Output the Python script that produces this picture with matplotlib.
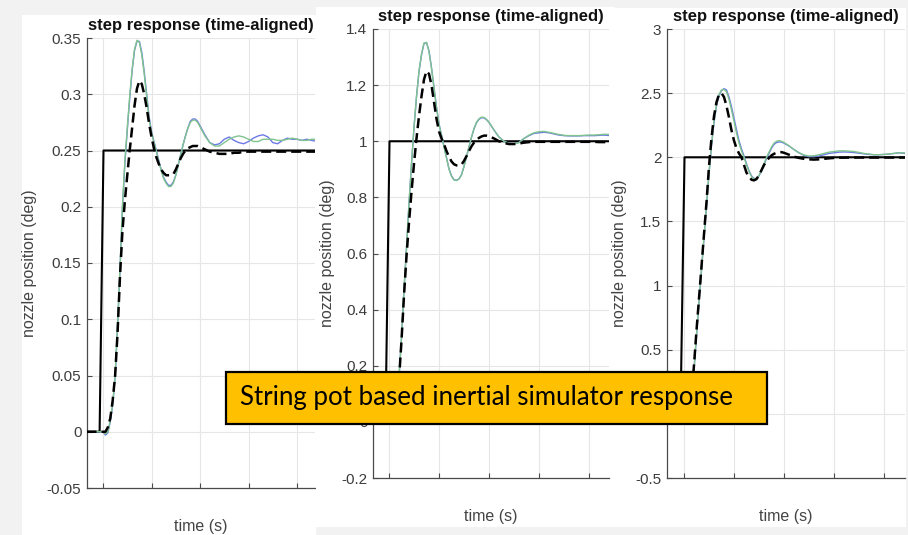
import matplotlib
matplotlib.use("Agg")
import matplotlib.pyplot as plt
from matplotlib.patches import Rectangle
from matplotlib.ticker import FuncFormatter

plt.rcParams["font.family"] = ["Liberation Sans", "DejaVu Sans"]
plt.rcParams["axes.unicode_minus"] = False

# sample times (s, relative to the step)
t = [-0.34, 0.0, 0.05, 0.1, 0.15, 0.2, 0.25, 0.3, 0.35, 0.4,
     0.45, 0.5, 0.55, 0.6, 0.65, 0.7, 0.75, 0.8, 0.85, 0.9,
     0.95, 1.0, 1.05, 1.1, 1.15, 1.2, 1.25, 1.3, 1.35, 1.4,
     1.45, 1.5, 1.55, 1.6, 1.65, 1.7, 1.75, 1.8, 1.85, 1.9,
     1.95, 2.0, 2.1, 2.2, 2.3, 2.4, 2.5, 2.6, 2.7, 2.8,
     2.9, 3.0, 3.1, 3.2, 3.3, 3.4, 3.5, 3.6, 3.7, 3.8,
     3.9, 4.0, 4.1, 4.2, 4.3, 4.42]

# commanded step
cmd_t = [-0.34, -0.07, 0.01, 4.42]
cmd_levels = [0.25, 1.0, 2.0]

# 0.25 deg step
meas_a_025 = [0, 0, -0.003, -0.001, 0.009, 0.024, 0.049, 0.093, 0.143, 0.198,
              0.238, 0.268, 0.296, 0.321, 0.339, 0.347, 0.347, 0.337, 0.320, 0.300,
              0.280, 0.267, 0.258, 0.250, 0.241, 0.233, 0.226, 0.222, 0.219, 0.219,
              0.222, 0.228, 0.237, 0.246, 0.255, 0.263, 0.270, 0.276, 0.278, 0.278,
              0.276, 0.272, 0.264, 0.257, 0.255, 0.256, 0.260, 0.262, 0.259, 0.257,
              0.256, 0.258, 0.261, 0.263, 0.264, 0.262, 0.257, 0.256, 0.259, 0.261,
              0.260, 0.260, 0.259, 0.260, 0.259, 0.258]
meas_b_025 = [0, 0, -0.002, 0.0, 0.010, 0.025, 0.050, 0.095, 0.145, 0.200,
              0.240, 0.270, 0.298, 0.322, 0.340, 0.348, 0.346, 0.335, 0.318, 0.298,
              0.278, 0.266, 0.257, 0.249, 0.240, 0.232, 0.225, 0.221, 0.218, 0.218,
              0.221, 0.228, 0.237, 0.246, 0.255, 0.263, 0.270, 0.275, 0.277, 0.277,
              0.275, 0.271, 0.263, 0.257, 0.254, 0.254, 0.257, 0.260, 0.262, 0.263,
              0.262, 0.260, 0.258, 0.258, 0.260, 0.260, 0.260, 0.259, 0.259, 0.260,
              0.261, 0.260, 0.259, 0.259, 0.260, 0.260]
model_025 = [0, 0, 0.0, 0.004, 0.012, 0.028, 0.050, 0.088, 0.138, 0.178,
             0.205, 0.228, 0.250, 0.270, 0.290, 0.305, 0.312, 0.309, 0.300, 0.288,
             0.274, 0.262, 0.252, 0.244, 0.238, 0.233, 0.230, 0.228, 0.228, 0.228,
             0.229, 0.233, 0.238, 0.243, 0.247, 0.250, 0.252, 0.253, 0.254, 0.254,
             0.254, 0.253, 0.251, 0.249, 0.248, 0.247, 0.247, 0.247, 0.248, 0.248,
             0.249, 0.249, 0.249, 0.249, 0.249, 0.249, 0.249, 0.249, 0.249, 0.249,
             0.249, 0.249, 0.249, 0.249, 0.249, 0.249]

# 1 deg step
meas_a_1 = [0, 0, -0.006, 0.018, 0.068, 0.158, 0.298, 0.468, 0.618, 0.778,
            0.918, 1.048, 1.158, 1.248, 1.308, 1.348, 1.352, 1.322, 1.262, 1.192,
            1.122, 1.062, 1.022, 0.982, 0.942, 0.902, 0.877, 0.863, 0.861, 0.866,
            0.881, 0.910, 0.945, 0.980, 1.014, 1.044, 1.066, 1.078, 1.084, 1.083,
            1.077, 1.067, 1.040, 1.015, 1.000, 0.993, 0.991, 0.996, 1.010, 1.020,
            1.028, 1.030, 1.032, 1.030, 1.026, 1.022, 1.020, 1.019, 1.019, 1.019,
            1.020, 1.020, 1.020, 1.021, 1.022, 1.020]
meas_b_1 = [0, 0, -0.005, 0.02, 0.07, 0.16, 0.30, 0.47, 0.62, 0.78,
            0.92, 1.05, 1.16, 1.25, 1.31, 1.35, 1.352, 1.32, 1.26, 1.19,
            1.12, 1.06, 1.02, 0.98, 0.94, 0.90, 0.875, 0.862, 0.86, 0.865,
            0.88, 0.91, 0.945, 0.98, 1.015, 1.045, 1.068, 1.08, 1.086, 1.085,
            1.078, 1.068, 1.04, 1.015, 1.0, 0.992, 0.99, 0.995, 1.01, 1.022,
            1.03, 1.034, 1.035, 1.032, 1.028, 1.024, 1.021, 1.02, 1.02, 1.02,
            1.021, 1.022, 1.022, 1.023, 1.025, 1.024]
model_1 = [0, 0, 0.0, 0.015, 0.06, 0.15, 0.29, 0.45, 0.59, 0.71,
           0.82, 0.92, 1.01, 1.09, 1.16, 1.22, 1.25, 1.24, 1.20, 1.14,
           1.08, 1.035, 1.01, 0.99, 0.965, 0.945, 0.928, 0.918, 0.914, 0.914,
           0.917, 0.93, 0.947, 0.965, 0.982, 0.995, 1.005, 1.012, 1.017, 1.02,
           1.02, 1.018, 1.01, 1.0, 0.994, 0.99, 0.99, 0.992, 0.995, 0.997,
           0.998, 0.998, 0.998, 0.998, 0.998, 0.998, 0.998, 0.998, 0.998, 0.998,
           0.998, 0.998, 0.998, 0.997, 0.997, 0.997]

# 2 deg step
meas_a_2 = [0, 0, -0.01, 0.015, 0.12, 0.34, 0.61, 0.87, 1.12, 1.37,
            1.62, 1.87, 2.09, 2.27, 2.40, 2.48, 2.52, 2.535, 2.525, 2.47,
            2.395, 2.305, 2.215, 2.13, 2.065, 2.01, 1.95, 1.895, 1.855, 1.835,
            1.835, 1.855, 1.895, 1.94, 1.99, 2.03, 2.07, 2.10, 2.115, 2.12,
            2.118, 2.11, 2.088, 2.06, 2.035, 2.015, 2.005, 2.005, 2.01, 2.02,
            2.03, 2.035, 2.04, 2.042, 2.04, 2.037, 2.032, 2.027, 2.022, 2.02,
            2.02, 2.022, 2.025, 2.03, 2.035, 2.03]
meas_b_2 = [0, 0, -0.01, 0.02, 0.13, 0.35, 0.62, 0.88, 1.13, 1.38,
            1.63, 1.88, 2.10, 2.28, 2.41, 2.49, 2.525, 2.53, 2.51, 2.45,
            2.37, 2.28, 2.19, 2.11, 2.05, 2.0, 1.94, 1.89, 1.85, 1.83,
            1.835, 1.86, 1.90, 1.95, 2.0, 2.04, 2.08, 2.11, 2.125, 2.13,
            2.125, 2.115, 2.09, 2.06, 2.035, 2.018, 2.01, 2.012, 2.02, 2.03,
            2.04, 2.045, 2.05, 2.05, 2.048, 2.045, 2.038, 2.03, 2.025, 2.02,
            2.02, 2.022, 2.026, 2.03, 2.035, 2.035]
model_2 = [0, 0, 0.0, 0.03, 0.15, 0.38, 0.65, 0.90, 1.15, 1.40,
           1.65, 1.93, 2.15, 2.32, 2.43, 2.49, 2.50, 2.47, 2.40, 2.31,
           2.21, 2.13, 2.07, 2.03, 2.0, 1.94, 1.88, 1.85, 1.825, 1.82,
           1.83, 1.86, 1.90, 1.94, 1.97, 1.995, 2.015, 2.027, 2.035, 2.04,
           2.04, 2.035, 2.02, 2.005, 1.995, 1.988, 1.984, 1.982, 1.984, 1.988,
           1.992, 1.995, 1.997, 1.997, 1.998, 1.998, 1.998, 1.998, 1.998, 1.998,
           1.998, 1.998, 1.998, 1.998, 1.998, 1.998]

yticks_025 = [-0.05, 0, 0.05, 0.1, 0.15, 0.2, 0.25, 0.3, 0.35]
yticks_1 = [-0.2, 0, 0.2, 0.4, 0.6, 0.8, 1.0, 1.2, 1.4]
yticks_2 = [-0.5, 0, 0.5, 1.0, 1.5, 2.0, 2.5, 3.0]

title = "step response (time-aligned)"
ylab = "nozzle position (deg)"
xlab = "time (s)"
banner = "String pot based inertial simulator response"

W, H = 908, 535


def px_box(x0, y0, x1, y1):
    # pixel box (top-left origin) -> figure fraction [l, b, w, h]
    return [x0 / W, 1 - y1 / H, (x1 - x0) / W, (y1 - y0) / H]


fig = plt.figure(figsize=(W / 100, H / 100), dpi=100, facecolor="#f2f2f2")

panels = [
    dict(sheet=(22, 15, 316, 535), box=(87, 38, 315, 488), xlim=(-0.33, 4.37),
         yt=yticks_025, a=meas_a_025, b=meas_b_025, m=model_025, lvl=cmd_levels[0],
         ylx=-0.219, xly=-0.069),
    dict(sheet=(316, 7, 615, 527), box=(373, 29, 609, 478), xlim=(-0.32, 4.40),
         yt=yticks_1, a=meas_a_1, b=meas_b_1, m=model_1, lvl=cmd_levels[1],
         ylx=-0.16, xly=-0.069),
    dict(sheet=(615, 8, 906, 527), box=(667, 29, 905, 478), xlim=(-0.34, 4.42),
         yt=yticks_2, a=meas_a_2, b=meas_b_2, m=model_2, lvl=cmd_levels[2],
         ylx=-0.168, xly=-0.069),
]

axis_grey = "#4a4a4a"
for i, p in enumerate(panels):
    z = 2 * i
    sx0, sy0, sx1, sy1 = p["sheet"]
    sheet = Rectangle((sx0 / W, 1 - sy1 / H), (sx1 - sx0) / W, (sy1 - sy0) / H,
                      transform=fig.transFigure, facecolor="white", edgecolor="none",
                      zorder=z + 0.5)
    fig.add_artist(sheet)

    ax = fig.add_axes(px_box(*p["box"]))
    ax.set_zorder(z + 1)
    ax.set_facecolor("white")

    ax.plot(cmd_t, [0, 0, p["lvl"], p["lvl"]], color="black", lw=1.5, zorder=3)
    ax.plot(t, p["a"], color="#6e78e6", lw=1.0, zorder=4)
    ax.plot(t, p["b"], color="#7fc48e", lw=1.0, zorder=5)
    ax.plot(t, p["m"], color="black", lw=1.8, dashes=(4, 2), zorder=6)

    ax.set_xlim(*p["xlim"])
    ax.set_ylim(p["yt"][0], p["yt"][-1])
    ax.set_xticks([0, 1, 2, 3, 4])
    ax.set_xticklabels([])
    ax.set_yticks(p["yt"])
    ax.yaxis.set_major_formatter(FuncFormatter(lambda v, pos: "%g" % round(v, 3)))
    ax.tick_params(direction="in", length=3.5, width=0.8, color=axis_grey,
                   labelcolor="#3c3c3c", labelsize=11, pad=4)
    ax.grid(True, color="#e6e6e6", lw=0.8)
    ax.set_axisbelow(True)
    for side in ("top", "right"):
        ax.spines[side].set_visible(False)
    for side in ("left", "bottom"):
        ax.spines[side].set_color(axis_grey)
        ax.spines[side].set_linewidth(0.9)

    ax.set_title(title, fontsize=12, fontweight="bold", color="#111111", pad=6)
    ax.set_ylabel(ylab, fontsize=11.5, color="#444444")
    ax.set_xlabel(xlab, fontsize=11.5, color="#444444")
    ax.yaxis.set_label_coords(p["ylx"], 0.5)
    ax.xaxis.set_label_coords(0.5, p["xly"])

# highlighted caption across the panels
bx0, by0, bx1, by1 = 226, 372, 767, 424
fig.add_artist(Rectangle((bx0 / W, 1 - by1 / H), (bx1 - bx0) / W, (by1 - by0) / H,
                         transform=fig.transFigure, facecolor="#ffc000",
                         edgecolor="black", lw=1.6, zorder=20))
fig.text(240 / W, 1 - 398 / H, banner, ha="left", va="center", fontsize=18.6,
         family=["Lato", "DejaVu Sans"], color="black", zorder=21)

fig.savefig("out.png", dpi=100, facecolor=fig.get_facecolor())
